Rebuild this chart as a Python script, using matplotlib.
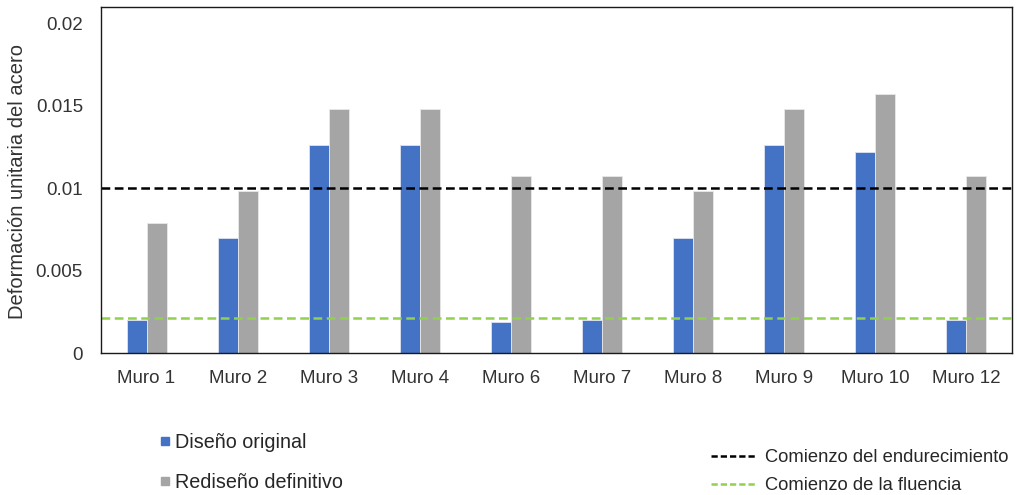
import matplotlib
matplotlib.use("Agg")
import matplotlib.pyplot as plt
import numpy as np
from matplotlib.lines import Line2D

plt.rcParams['font.family'] = ['Liberation Sans', 'DejaVu Sans']

muros = ["Muro 1", "Muro 2", "Muro 3", "Muro 4", "Muro 6",
         "Muro 7", "Muro 8", "Muro 9", "Muro 10", "Muro 12"]
diseno_original = [0.0020, 0.0070, 0.0126, 0.0126, 0.0019,
                   0.0020, 0.0070, 0.0126, 0.0122, 0.0020]
rediseno_definitivo = [0.0079, 0.0098, 0.0148, 0.0148, 0.0107,
                       0.0107, 0.0098, 0.0148, 0.0157, 0.0107]
endurecimiento = 0.010
fluencia = 0.0021
yticks = [0, 0.005, 0.01, 0.015, 0.02]
ytick_labels = ["0", "0.005", "0.01", "0.015", "0.02"]

W, H = 1017, 495
fig = plt.figure(figsize=(W / 100, H / 100), dpi=100)
ax = fig.add_axes([101 / W, 1 - 353 / H, (1012 - 101) / W, (353 - 7) / H])

x = np.arange(len(muros))
bw = 0.22
c_blue = "#4472C4"
c_gray = "#A5A5A5"
ax.bar(x - bw / 2, diseno_original, bw, color=c_blue, edgecolor="#DDE4F2", linewidth=0.6)
ax.bar(x + bw / 2, rediseno_definitivo, bw, color=c_gray, edgecolor="#E8E8E8", linewidth=0.6)

ax.axhline(endurecimiento, color="black", lw=1.8, ls=(0, (3.5, 1.8)))
ax.axhline(fluencia, color="#92D050", lw=1.8, ls=(0, (3.5, 1.8)))

ax.set_xlim(-0.5, len(muros) - 0.5)
ax.set_ylim(0, 0.02097)
ax.set_xticks(x)
ax.set_xticklabels(muros, fontsize=13.5, color="#333333")
ax.set_yticks(yticks)
ax.set_yticklabels(ytick_labels, fontsize=13.5, color="#333333")
ax.tick_params(axis="both", length=0)
ax.tick_params(axis="x", pad=12)
ax.tick_params(axis="y", pad=13)
for s in ax.spines.values():
    s.set_color("#1a1a1a")
    s.set_linewidth(1.0)

fig.text(18 / W, 1 - 182 / H, "Deformación unitaria del acero", rotation=90,
         ha="center", va="center", fontsize=14.5, color="#333333")

h1 = [Line2D([], [], marker="s", ls="none", color=c_blue, markersize=6),
      Line2D([], [], marker="s", ls="none", color=c_gray, markersize=6)]
leg1 = fig.legend(h1, ["Diseño original", "Rediseño definitivo"],
                  loc="upper left", bbox_to_anchor=(149 / W, 1 - 423 / H),
                  frameon=False, fontsize=14.2, handlelength=0.6, handletextpad=0.2,
                  labelspacing=1.05, borderpad=0)
for t in leg1.get_texts():
    t.set_color("#262626")

h2 = [Line2D([], [], color="black", lw=1.8, ls=(0, (2.5, 1.2))),
      Line2D([], [], color="#92D050", lw=1.8, ls=(0, (2.5, 1.2)))]
leg2 = fig.legend(h2, ["Comienzo del endurecimiento", "Comienzo de la fluencia"],
                  loc="upper left", bbox_to_anchor=(702 / W, 1 - 440 / H),
                  frameon=False, fontsize=13.2, handlelength=2.5, handletextpad=0.45,
                  labelspacing=0.6, borderpad=0)
for t in leg2.get_texts():
    t.set_color("#262626")

fig.savefig("out.png", dpi=100)
